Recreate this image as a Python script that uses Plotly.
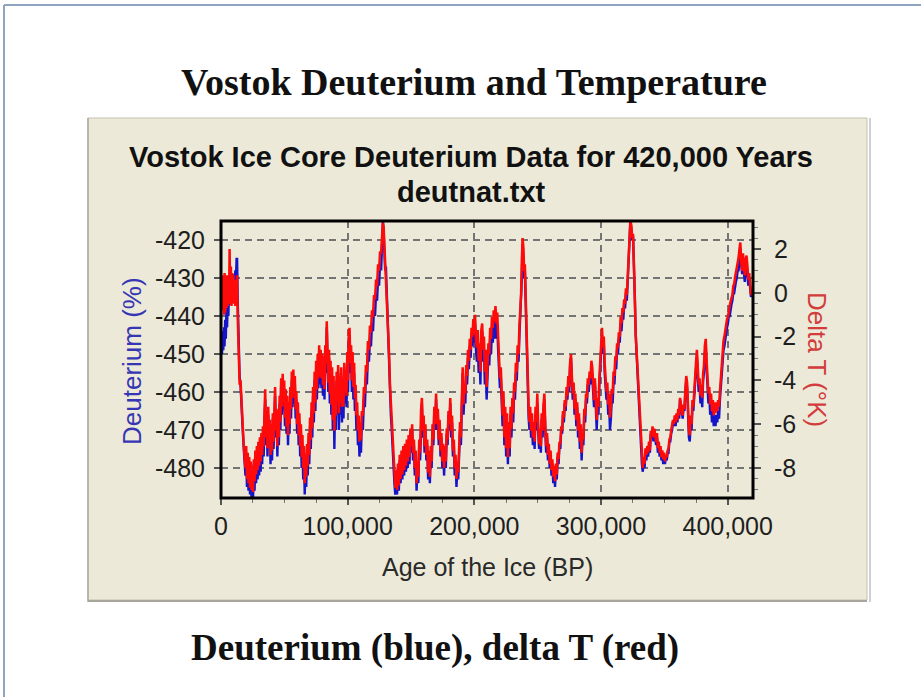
import plotly.graph_objects as go

# ---------------- data ----------------
age_years = [
    300, 800, 1300, 1800, 2300, 2800, 3300, 3800, 4300, 4800,
    5300, 5800, 6300, 6800, 7300, 7800, 8300, 8800, 9300, 9800,
    10300, 10800, 11300, 11800, 12300, 12700, 13200, 13700, 14200, 14700,
    15400, 16200, 17000, 17800, 18600,
    19300, 19900, 20500, 21100, 21700, 22300, 22900, 23500, 24100, 24700,
    25300, 25900, 26500, 27100, 27700, 28300, 28900, 29500, 30100, 30700,
    31300, 31900, 32500, 33100, 33700, 34300, 34900, 35500, 36100, 36700,
    37300, 37900, 38500, 39100, 39700, 40300, 40900, 41500, 42100, 42700,
    43300, 43900, 44500, 45100, 45700, 46300, 46900, 47500, 48100, 48700,
    49300, 49900, 50500, 51100, 51700, 52300, 52900, 53500, 54100, 54700,
    55300, 55900, 56500, 57100, 57700, 58300, 58900, 59500, 60100, 60700,
    61300, 61900, 62500, 63100, 63700, 64300, 64900, 65500, 66100, 66700,
    67300, 67900, 68500, 69100, 69700, 70300, 70900, 71500, 72100, 72700,
    73300, 73900, 74500, 75100, 75700, 76300, 76900, 77500, 78100, 78700,
    79300, 79900, 80500, 81100, 81700, 82300, 82900, 83500, 84100, 84700,
    85300, 85900, 86500, 87100, 87700, 88300, 88900, 89500, 90100, 90700,
    91300, 91900, 92500, 93100, 93700, 94300, 94900, 95500, 96100, 96700,
    97300, 97900, 98500, 99100, 99700, 100300, 100900, 101500, 102100, 102700,
    103300, 103900, 104500, 105100, 105700, 106300, 106900, 107500, 108100, 108700,
    109300, 109900, 110500,
    111200, 112000, 112800, 113600, 114400, 115200, 116000, 116800, 117600, 118400,
    119200, 120000, 120800, 121600, 122400, 123200, 124000, 124800, 125600, 126400,
    127200, 127800, 128400, 129000, 129600, 130200, 130800, 131400, 132000, 132700,
    133400, 134100, 134800, 135500, 136200, 136900, 137600, 138300, 139000,
    139700, 140400, 141100, 141800, 142500, 143200, 143900, 144600, 145300, 146000,
    146700, 147400, 148100, 148800, 149500, 150200, 150900, 151600, 152300, 153000,
    153700, 154400, 155100, 155800, 156500, 157200, 157900, 158600, 159300, 160000,
    160700, 161400, 162100, 162800, 163500, 164200, 164900, 165600, 166300, 167000,
    167700, 168400, 169100, 169800, 170500, 171200, 171900, 172600, 173300, 174000,
    174700, 175400, 176100, 176800, 177500, 178200, 178900, 179600, 180300, 181000,
    181700, 182400, 183100, 183800, 184500, 185200, 185900, 186600, 187300, 188000,
    188700, 189400, 190100, 190800, 191500, 192200, 192900, 193600, 194300, 195000,
    195700, 196400, 197100, 197800, 198500, 199200, 199900, 200600, 201300, 202000,
    202700, 203400, 204100, 204800, 205500, 206200, 206900, 207600, 208300, 209000,
    209700, 210400, 211100, 211800, 212500, 213200, 213900, 214600, 215300, 216000,
    216700, 217400, 218100, 218800, 219500, 220200, 220900, 221600, 222300, 223000,
    223700, 224400, 225100, 225800, 226500, 227200, 227900, 228600, 229300, 230000,
    230700, 231400, 232100, 232800, 233500, 234200, 234900, 235600,
    236300, 236900, 237500, 238100, 238700, 239300, 239900, 240500, 241100, 241700,
    242300, 242900, 243500, 244100,
    244800, 245500, 246200, 246900, 247600, 248300, 249000, 249700, 250400, 251100,
    251800, 252500, 253200, 253900, 254600, 255300, 256000, 256700, 257400, 258100,
    258800, 259500, 260200, 260900, 261600, 262300, 263000, 263700, 264400, 265100,
    265800, 266500, 267200, 267900, 268600, 269300, 270000, 270700, 271400, 272100,
    272800, 273500, 274200, 274900, 275600, 276300, 277000, 277700, 278400, 279100,
    279800, 280500, 281200, 281900, 282600, 283300, 284000, 284700, 285400, 286100,
    286800, 287500, 288200, 288900, 289600, 290300, 291000, 291700, 292400, 293100,
    293800, 294500, 295200, 295900, 296600, 297300, 298000, 298700, 299400, 300100,
    300800, 301500, 302200, 302900, 303600, 304300, 305000, 305700, 306400, 307100,
    307800, 308500, 309200, 309900, 310600, 311300, 312000, 312700, 313400, 314100,
    314800, 315500, 316200, 316900, 317600, 318300, 319000, 319700, 320400, 321100,
    321800, 322500, 323200, 323900, 324600, 325300, 326000, 326700, 327400, 328100,
    328800, 329500, 330200, 330900, 331600, 332300, 333000, 333700, 334400, 335100,
    335800, 336500, 337200, 337900, 338600, 339300, 340000, 340700, 341400, 342100,
    342800, 343500, 344200, 344900, 345600, 346300, 347000, 347700, 348400, 349100,
    349800, 350500, 351200, 351900, 352600, 353300, 354000, 354700, 355400, 356100,
    356800, 357500, 358200, 358900, 359600, 360300, 361000, 361700, 362400, 363100,
    363800, 364500, 365200, 365900, 366600, 367300, 368000, 368700, 369400, 370100,
    370800, 371500, 372200, 372900, 373600, 374300, 375000, 375700, 376400, 377100,
    377800, 378500, 379200, 379900, 380600, 381300, 382000, 382700, 383400, 384100,
    384800, 385500, 386200, 386900, 387600, 388300, 389000, 389700, 390400, 391100,
    391800, 392500, 393200, 393900, 394600, 395300, 396000, 396700, 397400, 398100,
    398800, 399500, 400200, 400900, 401600, 402300, 403000, 403700, 404400, 405100,
    405800, 406500, 407200, 407900, 408600, 409300, 410000, 410700, 411400, 412100,
    412800, 413500, 414200, 414900, 415600, 416300, 417000, 417700, 418400, 419100,
]

deuterium = [
    -447, -450, -444, -449, -443, -448, -441, -446, -438, -443,
    -436, -440, -434, -437, -433, -436, -431, -434, -430, -433,
    -429, -432, -428, -431, -425, -425, -436, -446, -452, -456,
    -458, -466, -469, -474, -478,
    -482, -476, -485, -478, -486, -479, -487, -480, -488, -481,
    -488, -479, -486, -477, -484, -476, -483, -475, -482, -474,
    -481, -473, -479, -471, -477, -468, -462, -474, -467, -477,
    -466, -474, -469, -479, -470, -478, -467, -475, -463, -461,
    -472, -466, -477, -467, -474, -463, -470, -458, -466, -457,
    -465, -459, -469, -461, -471, -463, -474, -465, -471, -461,
    -467, -457, -464, -456, -463, -458, -467, -462, -471, -465,
    -474, -468, -477, -471, -480, -474, -483, -477, -487, -479,
    -485, -476, -482, -473, -479, -469, -475, -465, -472, -461,
    -468, -457, -465, -454, -462, -452, -459, -450, -458, -451,
    -459, -452, -461, -453, -462, -450, -455, -443, -452, -460,
    -451, -463, -454, -466, -456, -470, -458, -475, -462, -470,
    -457, -466, -455, -470, -458, -466, -456, -468, -459, -467,
    -455, -463, -458, -464, -452, -460, -446, -445, -455, -450,
    -460, -452, -462, -455, -465, -462, -470, -466, -474, -470,
    -477, -472, -476,
    -468, -470, -462, -464, -456, -458, -450, -452, -446, -448,
    -442, -444, -438, -440, -434, -436, -430, -432, -426, -428,
    -421, -415, -418, -424, -428, -427, -434, -440, -446, -452,
    -460, -466, -470, -476, -480, -484, -487, -482, -487,
    -480, -486, -478, -484, -477, -483, -476, -482, -475, -481,
    -474, -480, -473, -479, -471, -476, -470, -478, -474, -482,
    -477, -486, -480, -484, -474, -478, -466, -463, -472, -468,
    -476, -470, -478, -474, -483, -477, -484, -476, -480, -470,
    -474, -465, -470, -462, -470, -466, -474, -469, -477, -472,
    -480, -475, -482, -476, -480, -471, -474, -466, -470, -463,
    -472, -468, -477, -474, -482, -478, -485, -480, -483, -476,
    -470, -474, -462, -455, -466, -460, -463, -455, -458, -451,
    -454, -448, -451, -445, -448, -443, -447, -442, -449, -452,
    -446, -455, -450, -458, -446, -444, -452, -449, -458, -452,
    -462, -455, -450, -453, -446, -450, -443, -447, -441, -446,
    -440, -446, -442, -449, -455, -459, -456, -464, -469, -462,
    -474, -466, -477, -468, -479, -470, -477, -466, -472, -464,
    -468, -460, -462, -455, -457, -450, -452, -445,
    -440, -436, -430, -421, -424, -430, -428, -436, -445, -455,
    -462, -467, -470, -466,
    -472, -468, -474, -470, -475, -466, -470, -463, -470, -475,
    -471, -476, -467, -472, -465, -462, -470, -476, -472, -478,
    -475, -480, -477, -482, -479, -484, -481, -485, -480, -483,
    -477, -479, -474, -475, -470, -471, -466, -468, -463, -465,
    -460, -462, -457, -460, -453, -451, -457, -462, -459, -466,
    -462, -469, -464, -472, -467, -475, -470, -478, -472, -474,
    -466, -468, -462, -463, -458, -460, -456, -458, -454, -456,
    -460, -464, -458, -466, -470, -464, -466, -458, -454, -449,
    -445, -450, -447, -455, -458, -462, -460, -466, -463, -470,
    -467, -462, -463, -457, -458, -453, -454, -449, -450, -446,
    -447, -442, -444, -440, -441, -437, -438, -434, -436, -430,
    -424, -418, -415, -417, -420, -419, -425, -435, -445, -450,
    -456, -460, -463, -468, -474, -479, -481, -478, -480, -476,
    -478, -475, -477, -474, -476, -471, -472, -470, -473, -470,
    -472, -474, -472, -476, -474, -477, -475, -478, -476, -479,
    -477, -479, -477, -478, -476, -476, -473, -473, -471, -470,
    -468, -469, -467, -469, -466, -468, -465, -467, -462, -464,
    -465, -467, -464, -465, -460, -457, -459, -466, -472, -473,
    -468, -470, -464, -465, -460, -458, -454, -451, -456, -460,
    -458, -463, -460, -464, -457, -455, -450, -448, -454, -460,
    -463, -461, -466, -463, -468, -465, -469, -466, -469, -466,
    -468, -465, -467, -462, -458, -455, -452, -449, -448, -446,
    -445, -443, -442, -440, -440, -438, -437, -436, -434, -434,
    -432, -431, -430, -428, -428, -426, -422, -427, -429, -426,
    -428, -431, -428, -426, -429, -432, -430, -433, -435, -434,
]

delta_t = [
    -0.4, 0.5, -0.8, 0.8, -1.0, 0.9, -0.9, 0.6, -0.7, 0.8,
    -0.6, 0.7, -0.5, 2.0, -0.2, 1.2, -0.6, 0.9, -0.4, 0.8,
    -0.5, 0.6, -0.6, 0.5, -0.3, 0.8, -1.1, -2.5, -3.5, -4.2,
    -4.0, -5.2, -6.0, -6.8, -7.5,
    -8.0, -7.0, -8.5, -7.3, -8.7, -7.5, -8.9, -7.7, -9.0, -7.9,
    -9.1, -7.6, -8.6, -7.2, -8.3, -7.0, -8.1, -6.8, -7.9, -6.6,
    -7.7, -6.4, -7.4, -6.1, -7.0, -5.6, -4.4, -6.6, -5.4, -7.1,
    -5.2, -6.6, -5.8, -7.4, -6.0, -7.2, -5.5, -6.8, -4.8, -4.3,
    -6.3, -5.3, -7.0, -5.4, -6.6, -4.7, -5.9, -3.9, -5.2, -3.7,
    -5.0, -4.0, -5.7, -4.4, -6.1, -4.7, -6.5, -5.0, -6.0, -4.3,
    -5.3, -3.6, -4.8, -3.5, -4.6, -3.8, -5.3, -4.5, -6.0, -5.0,
    -6.5, -5.5, -7.0, -6.0, -7.5, -6.5, -8.0, -7.0, -8.7, -7.4,
    -8.4, -6.9, -7.9, -6.4, -7.4, -5.7, -6.7, -5.0, -6.2, -4.3,
    -5.5, -3.6, -5.0, -3.1, -4.4, -2.8, -3.9, -2.4, -3.8, -2.6,
    -3.9, -2.8, -4.2, -2.9, -4.4, -2.4, -3.2, -1.3, -2.8, -4.1,
    -2.6, -4.6, -3.1, -5.1, -3.4, -5.8, -3.8, -6.3, -4.5, -5.6,
    -3.6, -5.0, -3.3, -5.5, -3.8, -5.0, -3.4, -5.2, -4.0, -5.2,
    -3.2, -4.5, -3.7, -4.7, -2.7, -4.0, -1.8, -1.6, -3.2, -2.4,
    -4.0, -2.7, -4.3, -3.2, -4.8, -4.2, -5.6, -5.0, -6.3, -5.6,
    -6.8, -6.1, -6.7,
    -5.4, -5.6, -4.3, -4.6, -3.3, -3.6, -2.2, -2.6, -1.5, -1.8,
    -0.8, -1.1, -0.1, -0.3, 0.6, 0.3, 1.3, 1.0, 1.9, 1.8,
    2.8, 3.2, 3.0, 2.2, 1.8, 1.2, 0.0, -0.8, -1.8, -2.8,
    -4.2, -5.1, -5.9, -6.9, -7.6, -8.3, -8.9, -8.1, -9.0,
    -7.8, -8.8, -7.4, -8.5, -7.2, -8.3, -7.0, -8.1, -6.9, -7.9,
    -6.7, -7.7, -6.5, -7.5, -6.2, -7.0, -6.0, -7.3, -6.7, -8.0,
    -7.2, -8.7, -7.7, -8.4, -6.7, -7.3, -5.4, -4.8, -6.3, -5.6,
    -7.0, -6.0, -7.4, -6.7, -8.2, -7.2, -8.4, -7.0, -7.7, -6.0,
    -6.7, -5.2, -6.0, -4.6, -6.0, -5.3, -6.7, -5.8, -7.2, -6.4,
    -7.7, -6.9, -8.0, -7.0, -7.7, -6.2, -6.7, -5.4, -6.0, -4.8,
    -6.3, -5.6, -7.2, -6.7, -8.0, -7.4, -8.5, -7.7, -8.2, -7.0,
    -5.9, -6.6, -4.6, -3.4, -5.1, -4.2, -4.6, -3.3, -3.8, -2.6,
    -3.1, -2.1, -2.6, -1.6, -2.0, -1.2, -1.9, -1.0, -2.2, -2.5,
    -1.7, -3.1, -2.3, -3.6, -1.7, -1.4, -2.6, -2.0, -3.6, -2.6,
    -4.3, -3.1, -2.3, -2.8, -1.6, -2.1, -1.1, -1.6, -0.8, -1.3,
    -0.6, -1.4, -0.9, -2.0, -3.1, -3.9, -3.4, -4.8, -5.6, -4.5,
    -6.6, -5.2, -7.1, -5.5, -7.5, -5.9, -7.1, -5.2, -6.2, -4.8,
    -5.5, -4.1, -4.5, -3.2, -3.6, -2.4, -2.8, -1.5,
    -0.6, -0.1, 1.5, 2.5, 2.1, 1.0, 1.3, -0.2, -1.6, -3.3,
    -4.4, -5.3, -5.9, -5.2,
    -6.3, -5.5, -6.6, -5.9, -6.8, -5.2, -5.9, -4.6, -6.0, -6.9,
    -6.2, -7.0, -5.5, -6.3, -5.1, -4.6, -6.0, -7.0, -6.4, -7.4,
    -6.9, -7.8, -7.2, -8.1, -7.6, -8.4, -7.9, -8.6, -7.8, -8.3,
    -7.3, -7.6, -6.8, -6.9, -6.1, -6.3, -5.4, -5.7, -4.9, -5.2,
    -4.3, -4.7, -3.8, -4.3, -3.2, -2.8, -3.8, -4.6, -4.1, -5.3,
    -4.6, -5.8, -5.0, -6.3, -5.5, -6.8, -6.0, -7.3, -6.4, -6.7,
    -5.3, -5.6, -4.6, -4.8, -3.9, -4.2, -3.6, -3.9, -3.1, -3.4,
    -4.1, -4.9, -3.9, -5.2, -5.8, -4.8, -5.2, -3.9, -3.2, -2.3,
    -1.6, -2.5, -2.0, -3.2, -3.8, -4.5, -4.1, -5.1, -4.6, -5.7,
    -5.2, -4.4, -4.6, -3.6, -3.8, -2.9, -3.1, -2.3, -2.5, -1.8,
    -2.0, -1.1, -1.4, -0.7, -0.9, -0.3, -0.5, 0.2, -0.1, 0.9,
    1.9, 2.9, 3.3, 3.1, 2.5, 2.7, 1.6, -0.2, -1.9, -2.7,
    -3.7, -4.4, -4.9, -5.8, -6.8, -7.6, -8.0, -7.5, -7.8, -7.1,
    -7.4, -7.0, -7.3, -6.8, -7.2, -6.3, -6.5, -6.1, -6.6, -6.2,
    -6.5, -6.8, -6.4, -7.1, -6.8, -7.3, -7.0, -7.5, -7.2, -7.6,
    -7.3, -7.7, -7.4, -7.5, -7.2, -7.1, -6.7, -6.6, -6.3, -6.1,
    -5.8, -6.0, -5.6, -5.9, -5.5, -5.8, -5.3, -5.6, -4.8, -5.1,
    -5.3, -5.6, -5.1, -5.3, -4.4, -3.8, -4.1, -5.3, -6.3, -6.5,
    -5.6, -6.0, -4.9, -5.2, -4.3, -3.9, -3.2, -2.6, -3.5, -4.2,
    -3.9, -4.7, -4.2, -4.8, -3.7, -3.3, -2.4, -2.1, -3.1, -4.1,
    -4.6, -4.3, -5.1, -4.6, -5.4, -4.9, -5.6, -5.0, -5.5, -5.0,
    -5.4, -4.9, -5.2, -4.5, -3.8, -3.2, -2.7, -2.2, -2.0, -1.7,
    -1.6, -1.2, -1.1, -0.7, -0.6, -0.4, -0.2, -0.1, 0.3, 0.4,
    0.7, 0.9, 1.1, 1.4, 1.6, 2.0, 2.3, 1.4, 1.0, 1.8,
    1.3, 0.8, 1.5, 1.7, 1.2, 0.6, 0.9, 0.3, -0.1, 0.0,
]

x_tick_values = [0, 100000, 200000, 300000, 400000]
x_tick_labels = ["0", "100,000", "200,000", "300,000", "400,000"]
y_left_tick_values = [-480, -470, -460, -450, -440, -430, -420]
y_left_tick_labels = ["-480", "-470", "-460", "-450", "-440", "-430", "-420"]
y_right_tick_values = [-8, -6, -4, -2, 0, 2]
y_right_tick_labels = ["-8", "-6", "-4", "-2", "0", "2"]

main_title = "Vostok Deuterium and Temperature"
chart_title = ["Vostok Ice Core Deuterium Data for 420,000 Years", "deutnat.txt"]
x_title = "Age of the Ice (BP)"
y_left_title = "Deuterium (%)"
y_right_title = "Delta T (\u00b0K)"
caption = "Deuterium (blue), delta T (red)"

# ---------------- layout helpers (pixel -> paper) ----------------
W, H = 921, 697
def fx(px):
    return px / W
def fy(py):
    return 1 - py / H

PLOT_L, PLOT_R, PLOT_T, PLOT_B = 221, 753, 221, 498
BEIGE = "#ECE9D8"
SANS = "Liberation Sans, Arial, sans-serif"
SERIF = "Liberation Serif, Times New Roman, serif"

fig = go.Figure()
fig.add_trace(go.Scatter(
    x=age_years, y=deuterium, mode="lines", name="Deuterium",
    line=dict(color="#1414C8", width=2.4), yaxis="y", hoverinfo="skip"))
fig.add_trace(go.Scatter(
    x=age_years, y=delta_t, mode="lines", name="Delta T",
    line=dict(color="#FF0A0A", width=2.5), yaxis="y2", hoverinfo="skip"))

tick_font = dict(family=SANS, size=25, color="#1e1e1e")
grid = dict(showgrid=True, gridcolor="#747474", gridwidth=1.6, griddash="7px,5px")

fig.update_layout(
    width=W, height=H, autosize=False,
    margin=dict(l=0, r=0, t=0, b=0, pad=0, autoexpand=False),
    paper_bgcolor="white",
    plot_bgcolor=BEIGE,
    showlegend=False,
    xaxis=dict(
        domain=[fx(PLOT_L), fx(PLOT_R)],
        range=[0, 420000], automargin=False,
        tickmode="array", tickvals=x_tick_values, ticktext=x_tick_labels,
        ticks="outside", ticklen=6, tickwidth=1.5, tickcolor="#555",
        minor=dict(dtick=25000, tick0=0, ticks="outside", ticklen=4,
                   tickwidth=1, tickcolor="#777", showgrid=False),
        zeroline=False, showline=False,
        tickfont=tick_font, **grid,
    ),
    yaxis=dict(
        domain=[fy(PLOT_B), fy(PLOT_T)],
        range=[-487.9, -415.0], automargin=False,
        tickmode="array", tickvals=y_left_tick_values, ticktext=y_left_tick_labels,
        ticks="outside", ticklen=6, tickwidth=1.5, tickcolor="#555",
        ticklabelstandoff=4,
        zeroline=False, showline=False,
        tickfont=tick_font, **grid,
    ),
    yaxis2=dict(
        overlaying="y", side="right", anchor="x",
        range=[-9.37, 3.28], automargin=False,
        tickmode="array", tickvals=y_right_tick_values, ticktext=y_right_tick_labels,
        ticks="outside", ticklen=7, tickwidth=1.5, tickcolor="#555",
        ticklabelstandoff=8,
        minor=dict(dtick=0.5, tick0=0, ticks="outside", ticklen=4, tickwidth=1,
                   tickcolor="#777", showgrid=False),
        showgrid=False, zeroline=False, showline=False,
        tickfont=tick_font,
    ),
)

shapes = [
    # slide frame
    dict(type="line", xref="paper", yref="paper", x0=fx(4), x1=fx(4), y0=fy(697), y1=fy(5),
         line=dict(color="#8FA4C0", width=2)),
    dict(type="line", xref="paper", yref="paper", x0=fx(4), x1=fx(921), y0=fy(5), y1=fy(5),
         line=dict(color="#8FA4C0", width=2)),
    # beige chart panel
    dict(type="rect", xref="paper", yref="paper", layer="below",
         x0=fx(88), x1=fx(867), y0=fy(600), y1=fy(118),
         fillcolor=BEIGE, line=dict(color="#C4C1B2", width=1)),
    dict(type="line", xref="paper", yref="paper", x0=fx(88), x1=fx(88), y0=fy(602), y1=fy(118),
         line=dict(color="#A9A9A9", width=1.5)),
    dict(type="line", xref="paper", yref="paper", x0=fx(870), x1=fx(870), y0=fy(602), y1=fy(118),
         line=dict(color="#C0C0C0", width=1.5)),
    dict(type="line", xref="paper", yref="paper", x0=fx(88), x1=fx(867), y0=fy(601), y1=fy(601),
         line=dict(color="#A8A69A", width=2)),
    # plot frame
    dict(type="rect", xref="paper", yref="paper", layer="above",
         x0=fx(PLOT_L), x1=fx(PLOT_R), y0=fy(PLOT_B), y1=fy(PLOT_T),
         line=dict(color="black", width=3)),
]
fig.update_layout(shapes=shapes)

annotations = [
    dict(text="<b>" + main_title + "</b>", x=fx(474), y=fy(82),
         font=dict(family=SERIF, size=38, color="#111")),
    dict(text="<b>" + chart_title[0] + "</b>", x=fx(471), y=fy(157),
         font=dict(family=SANS, size=29, color="#111")),
    dict(text="<b>" + chart_title[1] + "</b>", x=fx(471), y=fy(192),
         font=dict(family=SANS, size=29, color="#111")),
    dict(text=x_title, x=fx(487), y=fy(567),
         font=dict(family=SANS, size=25, color="#2a2a2a")),
    dict(text=y_left_title, x=fx(132), y=fy(361), textangle=-90,
         font=dict(family=SANS, size=26, color="#3636B4")),
    dict(text=y_right_title, x=fx(817), y=fy(359), textangle=90,
         font=dict(family=SANS, size=26, color="#D23C3C")),
    dict(text="<b>" + caption + "</b>", x=fx(435), y=fy(648),
         font=dict(family=SERIF, size=37, color="#111")),
]
for a in annotations:
    a.update(xref="paper", yref="paper", showarrow=False, xanchor="center", yanchor="middle")
fig.update_layout(annotations=annotations)

fig.write_html(
    "out.html",
    config={"displayModeBar": False, "responsive": False},
    post_script="document.body.style.margin='0px';document.body.style.overflow='hidden';",
)
